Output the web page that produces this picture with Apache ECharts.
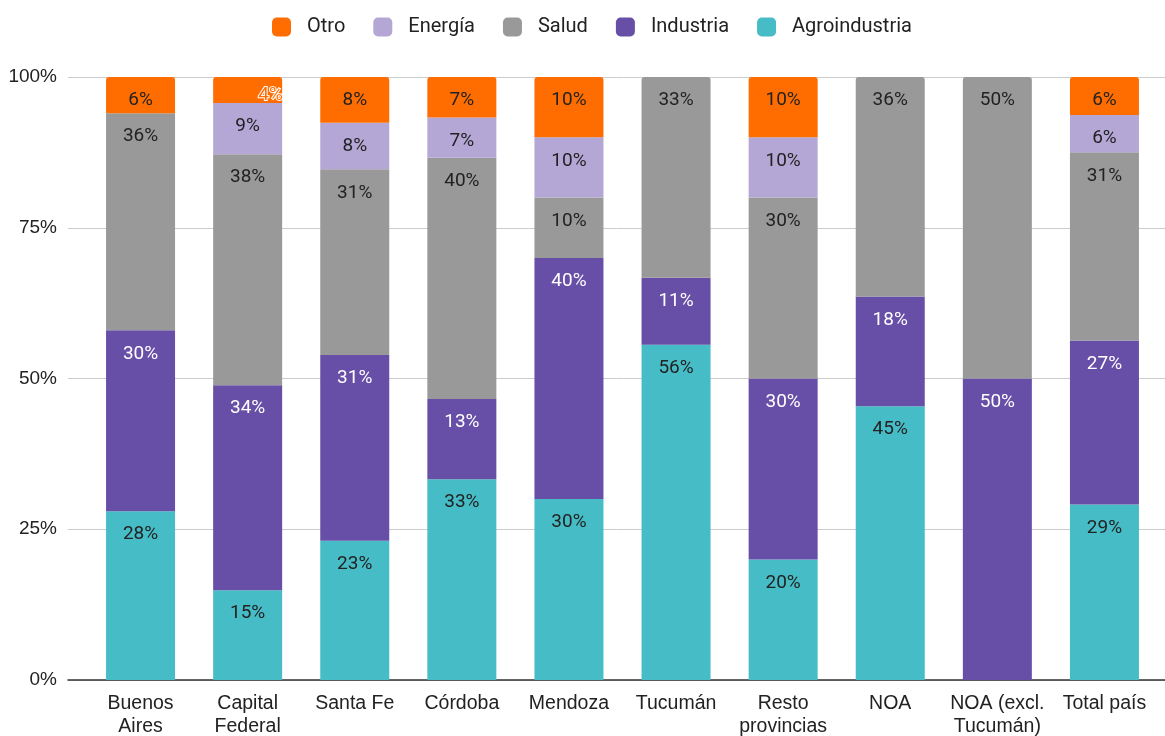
<!DOCTYPE html>
<html>
<head>
<meta charset="utf-8">
<script src="https://cdn.jsdelivr.net/npm/echarts@6/dist/echarts.min.js"></script>
<style>
html,body{margin:0;padding:0;background:#fff;}
#c{width:1165px;height:736px;}
</style>
</head>
<body>
<div id="c"></div>
<script>
const categories = ['Buenos\nAires','Capital\nFederal','Santa Fe','Córdoba','Mendoza','Tucumán','Resto\nprovincias','NOA','NOA (excl.\nTucumán)','Total país'];
const agroindustria = [28, 14.9, 23.1, 33.3, 30, 55.6, 20, 45.4, 0, 29.1];
const industria     = [30, 34.0, 30.8, 13.3, 40, 11.1, 30, 18.2, 50, 27.2];
const salud         = [36, 38.3, 30.8, 40.0, 10, 33.3, 30, 36.4, 50, 31.2];
const energia       = [0, 8.5, 7.7, 6.7, 10, 0, 10, 0, 0, 6.2];
const otro          = [6, 4.3, 7.7, 6.7, 10, 0, 10, 0, 0, 6.3];
const yTicks = [0, 25, 50, 75, 100];

const seriesDefs = [
  {name:'Agroindustria', data: agroindustria, color:'#46bdc6', label:'#222'},
  {name:'Industria', data: industria, color:'#674ea7', label:'#ffffff'},
  {name:'Salud', data: salud, color:'#999999', label:'#222'},
  {name:'Energía', data: energia, color:'#b4a7d6', label:'#222'},
  {name:'Otro', data: otro, color:'#ff6d01', label:'#222'}
];

// topmost non-zero segment per category gets rounded top corners
const topIdx = categories.map((c, i) => {
  let t = -1;
  seriesDefs.forEach((s, si) => { if (s.data[i] > 0) t = si; });
  return t;
});

const FONT = 'Roboto, "Noto Sans", sans-serif';
const AXFONT = '"Liberation Sans", Arial, sans-serif';

const series = seriesDefs.map((s, si) => ({
  name: s.name,
  type: 'bar',
  stack: 'total',
  xAxisIndex: 1,
  yAxisIndex: 1,
  barWidth: 69,
  itemStyle: {color: s.color},
  label: {
    show: true,
    position: 'insideTop',
    distance: 14,
    color: s.label,
    fontSize: 19,
    fontFamily: FONT,
    formatter: p => (p.value > 0 ? Math.round(p.value) + '%' : '')
  },
  data: s.data.map((v, i) => {
    const item = {value: v};
    if (topIdx[i] === si) item.itemStyle = {borderRadius: [3, 3, 0, 0]};
    if (v > 0 && v < 5) {
      item.label = {
        color: s.color,
        textBorderColor: '#ffffff',
        textBorderWidth: 2,
        offset: [23, -5]
      };
    }
    return item;
  })
}));

const chart = echarts.init(document.getElementById('c'), null, {renderer:'canvas'});
chart.setOption({
  animation: false,
  backgroundColor: '#ffffff',
  textStyle: {fontFamily: FONT},
  legend: {
    top: 12,
    left: 267,
    data: ['Otro','Energía','Salud','Industria','Agroindustria'],
    icon: 'roundRect',
    itemWidth: 19,
    itemHeight: 19,
    itemGap: 28,
    textStyle: {fontSize: 20, color: '#222', fontFamily: FONT, padding: [0,0,0,11]}
  },
  grid: [
    {left: 68, right: 0, top: 77, bottom: 56, containLabel: false, outerBoundsMode: 'none'},
    {left: 87, right: 7, top: 77, bottom: 56, containLabel: false, outerBoundsMode: 'none'}
  ],
  xAxis: [
    {gridIndex: 0, type: 'value', min: 0, max: 1, axisLine: {show: true, lineStyle: {color: '#333', width: 1.5}},
     axisTick: {show: false}, axisLabel: {show: false}, splitLine: {show: false}},
    {gridIndex: 1, type: 'category', data: categories, axisLine: {show: false}, axisTick: {show: false},
     axisLabel: {fontSize: 19.5, color: '#222', fontFamily: AXFONT, margin: 12, lineHeight: 23, interval: 0}}
  ],
  yAxis: [
    {gridIndex: 0, type: 'value', min: yTicks[0], max: yTicks[yTicks.length-1], interval: 25,
     axisLine: {show: false}, axisTick: {show: false},
     axisLabel: {fontSize: 19, color: '#222', fontFamily: AXFONT, margin: 11, formatter: '{value}%'},
     splitLine: {lineStyle: {color: '#cccccc', width: 1}}},
    {gridIndex: 1, type: 'value', min: 0, max: 100, show: false, splitLine: {show: false}}
  ],
  series: series
});
</script>
</body>
</html>
